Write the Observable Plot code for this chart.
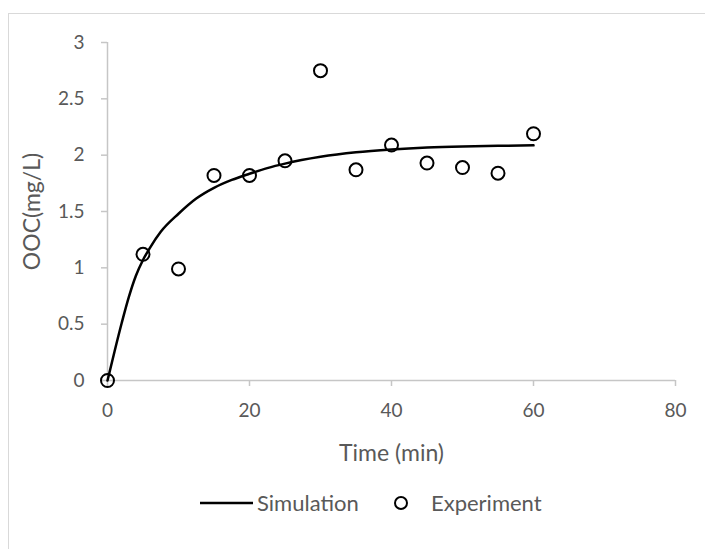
<!DOCTYPE html>
<html>
<head>
<meta charset="utf-8">
<script src="https://cdn.jsdelivr.net/npm/d3@7"></script>
<script src="https://cdn.jsdelivr.net/npm/@observablehq/plot@0.6"></script>
<style>
  html, body { margin: 0; padding: 0; background: #fff; }
  #wrap { position: relative; width: 705px; height: 549px; overflow: hidden; font-family: Lato, "Open Sans", sans-serif; }
  #frame { position: absolute; left: 8px; top: 13px; width: 760px; height: 600px; border: 1px solid #d9d9d9; box-sizing: border-box; }
  #chart { position: absolute; left: 0; top: 0; }
  #chart svg [aria-label="x-axis tick label"] text,
  #chart svg [aria-label="y-axis tick label"] text { font-size: 19px !important; fill: #595959; }
  #chart svg [aria-label="x-axis label"] text,
  #chart svg [aria-label="y-axis label"] text { font-size: 23px !important; fill: #595959; }
  #legend { position: absolute; left: 0; top: 488px; width: 705px; height: 34px; color: #595959; font-size: 22px; }
  #legend svg { position: absolute; left: 0; top: 0; }
  #legend span { position: absolute; top: 0; line-height: 30px; }
</style>
</head>
<body>
<div id="wrap">
  <div id="frame"></div>
  <div id="chart"></div>
  <div id="legend"></div>
</div>
<script>
// Experiment data
const expTime = [0, 5, 10, 15, 20, 25, 30, 35, 40, 45, 50, 55, 60];
const expOOC  = [0, 1.12, 0.99, 1.82, 1.82, 1.95, 2.75, 1.87, 2.09, 1.93, 1.89, 1.84, 2.19];
// Simulation curve
const simTime = [0, 1, 2, 3, 4, 5, 6, 7.5, 10, 12.5, 15, 17.5, 20, 22.5, 25, 30, 35, 40, 45, 50, 55, 60];
const simOOC  = [0, 0.26, 0.51, 0.74, 0.93, 1.07, 1.18, 1.32, 1.48, 1.615, 1.71, 1.78, 1.835, 1.885, 1.925, 1.985, 2.025, 2.05, 2.067, 2.077, 2.083, 2.087];
const xTicks = [0, 20, 40, 60, 80];
const yTicks = [0, 0.5, 1, 1.5, 2, 2.5, 3];
const seriesNames = ["Simulation", "Experiment"];

const expData = expTime.map((t, i) => ({t, v: expOOC[i]}));
const simData = simTime.map((t, i) => ({t, v: simOOC[i]}));

const axisColor = "#c6c6c6";
const textColor = "#595959";

const chart = Plot.plot({
  width: 705,
  height: 470,
  marginLeft: 107,
  marginRight: 30,
  marginTop: 42,
  marginBottom: 90,
  style: { fontFamily: "Lato, 'Open Sans', sans-serif", color: textColor, background: "transparent", overflow: "visible" },
  x: { domain: [0, 80] },
  y: { domain: [0, 3] },
  marks: [
    Plot.ruleY([0], { stroke: axisColor, strokeWidth: 1.5 }),
    Plot.ruleX([0], { stroke: axisColor, strokeWidth: 1.5 }),
    Plot.axisX({ ticks: xTicks, tickFormat: d => String(d), tickSize: 6, tickPadding: 17, stroke: axisColor, strokeWidth: 1.5, color: textColor,
      label: "Time (min)", labelAnchor: "center", labelArrow: "none", labelOffset: 80 }),
    Plot.axisY({ ticks: yTicks, tickFormat: d => String(d), tickSize: 6, tickPadding: 17, stroke: axisColor, strokeWidth: 1.5, color: textColor,
      label: "OOC(mg/L)", labelAnchor: "center", labelArrow: "none", labelOffset: 84 }),
    Plot.line(simData, { x: "t", y: "v", stroke: "black", strokeWidth: 2.5, curve: "monotone-x" }),
    Plot.dot(expData, { x: "t", y: "v", r: 6.5, stroke: "black", strokeWidth: 2, fill: "none" })
  ]
});
document.getElementById("chart").appendChild(chart);

// Legend
const legend = document.getElementById("legend");
const ls = d3.create("svg").attr("width", 705).attr("height", 34);
ls.append("line").attr("x1", 200).attr("x2", 253).attr("y1", 15).attr("y2", 15).attr("stroke", "black").attr("stroke-width", 2.5);
ls.append("circle").attr("cx", 401).attr("cy", 15).attr("r", 6).attr("fill", "none").attr("stroke", "black").attr("stroke-width", 2);
legend.appendChild(ls.node());
const s1 = document.createElement("span"); s1.textContent = seriesNames[0]; s1.style.left = "257px"; legend.appendChild(s1);
const s2 = document.createElement("span"); s2.textContent = seriesNames[1]; s2.style.left = "431px"; legend.appendChild(s2);
</script>
</body>
</html>
